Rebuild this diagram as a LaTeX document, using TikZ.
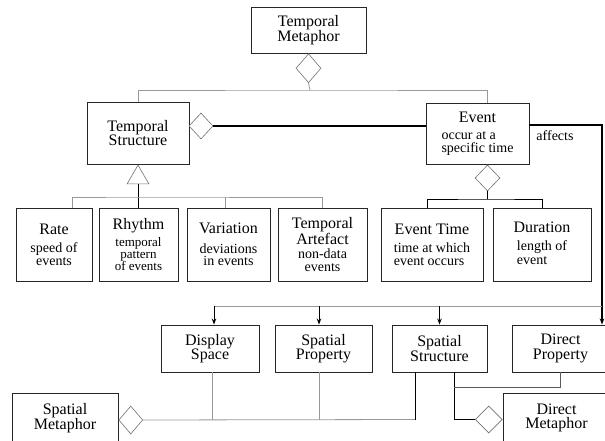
\documentclass[tikz,border=0pt]{standalone}
\usepackage{fontspec}
\setmainfont{Liberation Serif}
\usetikzlibrary{shapes.geometric,arrows.meta}
\newcommand\ttlfont{\fontsize{16}{14.5}\selectfont}
\newcommand\subfont{\fontsize{14}{12.5}\selectfont}
\newcommand\ttl[1]{{\ttlfont #1}}
\begin{document}
\begin{tikzpicture}[x=1pt,y=-1pt,
  box/.style={draw=black!85, line width=0.9pt, fill=white, inner sep=0pt,
    align=center, font=\subfont},
  tbox/.style={box, font=\ttlfont},
  dia/.style={diamond, draw=black!55, line width=0.6pt, fill=white, inner sep=0pt},
  gline/.style={draw=black!40, line width=0.8pt},
  bline/.style={draw=black, line width=0.9pt},
  dline/.style={draw=black!65, line width=0.9pt},
  heavy/.style={draw=black, line width=1.8pt},
  tip/.style={-{Stealth[length=6pt,width=4.5pt]}}]
\useasboundingbox (0,0) rectangle (605,441);
\clip (0,0) rectangle (605,441);

% top level
\node[tbox, minimum width=115pt, minimum height=46pt] (tm) at (308.5,30) {Temporal\\Metaphor};
\node[dia, minimum width=25pt, minimum height=29pt, anchor=north] (d0) at (tm.south) {};

\node[tbox, minimum width=102pt, minimum height=62pt] (ts) at (138,133) {Temporal\\Structure};
\node[box, minimum width=103pt, minimum height=61pt] (ev) at (477.5,134)
  {\ttl{Event}\\[4pt]\rlap{occur at a}\phantom{specific time}\\specific time};
\node[dia, minimum width=24pt, minimum height=26pt] (dts) at (201,126) {};

\coordinate (jtop) at (310,90);
\draw[gline] (d0.south) -- (jtop);
\draw[gline] (ts.north) |- (jtop) -| ([xshift=9.5pt]ev.north);
\draw[heavy] (dts.east) -- (dts.east -| ev.west);

% temporal structure kinds
\node[regular polygon, regular polygon sides=3, draw=black!55, line width=0.6pt,
  fill=white, inner sep=0pt, minimum size=25pt, anchor=corner 1] (tri) at (ts.south) {};
\node[box, minimum width=76pt, minimum height=73pt] (rate) at (54,244.5)
  {\ttl{Rate}\\[6pt]speed of\\events};
\node[box, minimum width=79pt, minimum height=73pt, font=\fontsize{13}{12}\selectfont] (rhythm) at (138.5,244.5)
  {\ttl{Rhythm}\\[3pt]temporal\\pattern\\of events};
\node[box, minimum width=83pt, minimum height=73pt] (var) at (228.5,244.5)
  {\ttl{Variation}\\[7pt]deviations\\in events};
\node[box, minimum width=89pt, minimum height=73pt] (ta) at (322.5,244.5)
  {\ttl{Temporal}\\\ttl{Artefact}\\[2pt]non-data\\events};

\coordinate (jrow) at (138,197);
\draw[bline] (tri.side 2) -- (tri.side 2 |- rhythm.north);
\draw[gline] ([xshift=18pt]rate.north) |- (jrow) -| ([xshift=-0.5pt]ta.north);
\draw[gline] ([xshift=-3.5pt]var.north) -- ([xshift=-3.5pt]var.north |- jrow);

% event parts
\node[dia, minimum width=25pt, minimum height=26pt] (dev) at (487.5,178) {};
\node[box, minimum width=102pt, minimum height=73pt] (et) at (432,244.5)
  {\ttl{Event Time}\\[6pt]time at which\\\rlap{event occurs}\phantom{time at which}};
\node[box, minimum width=98pt, minimum height=73pt] (dur) at (542,244.5)
  {\ttl{Duration}\\[6pt]length of\\\rlap{event}\phantom{length of}};
\coordinate (jev) at (487.5,199);
\draw[bline] (dev.south) -- (jev);
\draw[bline] ([xshift=-5pt]et.north) |- (jev) -| (dur.north);

% spatial side
\node[tbox, minimum width=98pt, minimum height=47pt] (ds) at (210,348.5) {Display\\Space};
\node[tbox, minimum width=97pt, minimum height=47pt] (sp) at (323.5,348.5) {Spatial\\Property};
\node[tbox, minimum width=95pt, minimum height=47pt] (ss) at (439.5,348.5) {Spatial\\Structure};
\node[tbox, minimum width=97pt, minimum height=47pt] (dp) at (560.5,348.5) {Direct\\Property};
\node[tbox, minimum width=106pt, minimum height=50pt] (sm) at (65,418) {Spatial\\Metaphor};
\node[tbox, minimum width=107pt, minimum height=50pt] (dm) at (556.5,418) {Direct\\Metaphor};
\node[dia, minimum width=24pt, minimum height=28pt, anchor=west] (dsm) at (sm.east |- 0,420) {};
\node[dia, minimum width=27pt, minimum height=27pt, anchor=east] (ddm) at (dm.west |- 0,419.5) {};

% affects
\coordinate (caff) at (602,125);
\coordinate (jbus) at (602,306);
\coordinate (ads) at ([xshift=4pt]ds.north);
\coordinate (asp) at ([xshift=-4.5pt]sp.north);
\draw[heavy, tip] (ev.east |- caff) -- (caff) -- (caff |- dp.north);
\node[font=\subfont, inner sep=0pt] (afflbl) at (555,136) {affects};
\draw[gline] (jbus) -- (jbus -| ads);
\draw[bline, tip] (ads |- jbus) -- (ads);
\draw[bline, tip] (asp |- jbus) -- (asp);
\draw[bline, tip] (ss.north |- jbus) -- (ss.north);

% spatial metaphor links
\coordinate (jsm) at (415,419.5);
\coordinate (jdp) at (454,387);
\draw[gline] (dsm.east) -- (jsm);
\draw[gline] ([xshift=2pt]ds.south) -- ([xshift=2pt]ds.south |- jsm);
\draw[gline] ([xshift=-4.5pt]sp.south) -- ([xshift=-4.5pt]sp.south |- jsm);
\draw[bline] ([xshift=-24.5pt]ss.south) -- (jsm);
\draw[bline] ([xshift=14.5pt]ss.south) |- (ddm.west);
\draw[dline] (jdp) -| (dp.south);
\end{tikzpicture}
\end{document}
